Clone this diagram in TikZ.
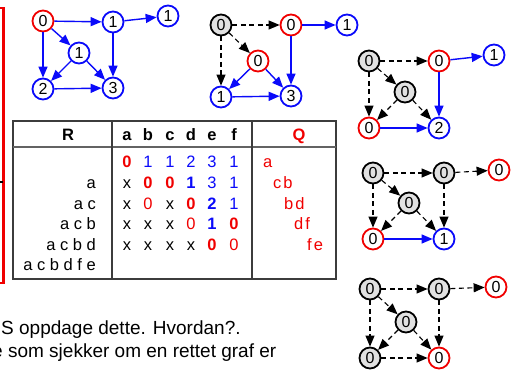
\documentclass[tikz,border=0pt]{standalone}
\usepackage{fontspec}
\setmainfont{Liberation Sans}
\usetikzlibrary{arrows.meta}
\definecolor{myred}{RGB}{240,0,0}
\definecolor{myblue}{RGB}{10,10,250}
\definecolor{mygray}{RGB}{225,225,225}
\definecolor{lineg}{RGB}{60,60,60}
\begin{document}
\begin{tikzpicture}[x=1pt,y=-1pt,
 gn/.style={circle,draw,line width=1.8pt,minimum size=21pt,inner sep=0pt,font=\fontsize{16}{16}\selectfont},
 rn/.style={gn,draw=myred,fill=white},
 bn/.style={gn,draw=myblue,fill=white},
 kn/.style={gn,draw=black,fill=mygray},
 be/.style={myblue,line width=1.4pt,-{Triangle[length=11pt,width=9pt]}},
 de/.style={black,line width=1.1pt,dash pattern=on 5pt off 3.5pt,-{Triangle[length=11pt,width=9pt]}},
 tt/.style={font=\fontsize{16.5}{16.5}\selectfont,inner sep=0pt,anchor=base},
 tb/.style={tt,font=\fontsize{16.5}{16.5}\selectfont\bfseries},
 rc/.style={tt,text=myred},
 rb/.style={tb,text=myred},
 bc/.style={tt,text=myblue},
 bb/.style={tb,text=myblue},
 rl/.style={tt,anchor=base east},
 ql/.style={tt,anchor=base west,text=myred},
 tline/.style={lineg,line width=1.2pt}
]
\useasboundingbox (0,0) rectangle (518,371);
% left red frame
\draw[myred,line width=2.2pt] (-10,8) rectangle (3.5,283);
\coordinate (tk1) at (0,182);
\coordinate (tk2) at (3,182);
\draw[black,line width=1pt] (tk1) -- (tk2);

% graph 1
\node[rn] (a0) at (43,21) {0};
\node[bn] (a1) at (113,22) {1};
\node[bn] (a2) at (168,16) {1};
\node[bn] (a3) at (79,53) {1};
\node[bn] (a4) at (43,89) {2};
\node[bn] (a5) at (113,88) {3};
\draw[be] (a0) -- (a1);
\draw[be] (a1) -- (a2);
\draw[be] (a0) -- (a3);
\draw[be] (a0) -- (a4);
\draw[be] (a3) -- (a4);
\draw[be] (a3) -- (a5);
\draw[be] (a1) -- (a5);
\draw[be] (a4) -- (a5);

% graph 2
\node[kn] (b0) at (221,25) {0};
\node[rn] (b1) at (291,25) {0};
\node[bn] (b2) at (347,25) {1};
\node[rn] (b3) at (258,61) {0};
\node[bn] (b4) at (221,97) {1};
\node[bn] (b5) at (291,96) {3};
\draw[de] (b0) -- (b1);
\draw[de] (b0) -- (b3);
\draw[de] (b0) -- (b4);
\draw[be] (b1) -- (b2);
\draw[be] (b1) -- (b5);
\draw[be] (b3) -- (b4);
\draw[be] (b3) -- (b5);
\draw[be] (b4) -- (b5);

% graph 3
\node[kn] (c0) at (369,61) {0};
\node[rn] (c1) at (439,61) {0};
\node[bn] (c2) at (494,55) {1};
\node[kn] (c3) at (405,92) {0};
\node[rn] (c4) at (369,128) {0};
\node[bn] (c5) at (439,128) {2};
\draw[de] (c0) -- (c1);
\draw[de] (c0) -- (c3);
\draw[de] (c0) -- (c4);
\draw[be] (c1) -- (c2);
\draw[be] (c1) -- (c5);
\draw[de] (c3) -- (c4);
\draw[de] (c3) -- (c5);
\draw[be] (c4) -- (c5);

% graph 4
\node[kn] (d0) at (373,173) {0};
\node[kn] (d1) at (444,173) {0};
\node[rn] (d2) at (499,170) {0};
\node[kn] (d3) at (409,203) {0};
\node[rn] (d4) at (373,239) {0};
\node[bn] (d5) at (444,239) {1};
\draw[de] (d0) -- (d1);
\draw[de] (d1) -- (d2);
\draw[de] (d0) -- (d3);
\draw[de] (d0) -- (d4);
\draw[de] (d1) -- (d5);
\draw[de] (d3) -- (d4);
\draw[de] (d3) -- (d5);
\draw[be] (d4) -- (d5);

% graph 5
\node[kn] (e0) at (370,289) {0};
\node[kn] (e1) at (439,289) {0};
\node[rn] (e2) at (496,287) {0};
\node[kn] (e3) at (406,322) {0};
\node[kn] (e4) at (370,358) {0};
\node[rn] (e5) at (439,358) {0};
\draw[de] (e0) -- (e1);
\draw[de] (e1) -- (e2);
\draw[de] (e0) -- (e3);
\draw[de] (e0) -- (e4);
\draw[de] (e1) -- (e5);
\draw[de] (e3) -- (e4);
\draw[de] (e3) -- (e5);
\draw[de] (e4) -- (e5);

% table
\draw[tline] (13,121) rectangle (336,279);
\draw[lineg!80,line width=1.6pt] (13,147) -- (336,147);
\draw[tline] (112,121) -- (112,279);
\draw[tline] (252,121) -- (252,279);

\node[tb] (hR) at (68,141) {R};
\node[tb] (ha) at (127,141) {a};
\node[tb] (hb) at (148,141) {b};
\node[tb] (hc) at (170,141) {c};
\node[tb] (hd) at (191,141) {d};
\node[tb] (he) at (212,141) {e};
\node[tb] (hf) at (234,141) {f};
\node[rb] (hQ) at (299,141) {Q};

% row 1
\node[rb] (r1a) at (127,167.8) {0};
\node[bc] (r1b) at (148,167.8) {1};
\node[bc] (r1c) at (170,167.8) {1};
\node[bc] (r1d) at (191,167.8) {2};
\node[bc] (r1e) at (212,167.8) {3};
\node[bc] (r1f) at (234,167.8) {1};
% row 2
\node[rl] (l2) at (96,188.6) {a};
\node[tt] (r2a) at (127,188.6) {x};
\node[rb] (r2b) at (148,188.6) {0};
\node[rb] (r2c) at (170,188.6) {0};
\node[bb] (r2d) at (191,188.6) {1};
\node[bc] (r2e) at (212,188.6) {3};
\node[bc] (r2f) at (234,188.6) {1};
% row 3
\node[rl] (l3) at (96,209) {a c};
\node[tt] (r3a) at (127,209) {x};
\node[rc] (r3b) at (148,209) {0};
\node[tt] (r3c) at (170,209) {x};
\node[rb] (r3d) at (191,209) {0};
\node[bb] (r3e) at (212,209) {2};
\node[bc] (r3f) at (234,209) {1};
% row 4
\node[rl] (l4) at (96,229.6) {a c b};
\node[tt] (r4a) at (127,229.6) {x};
\node[tt] (r4b) at (148,229.6) {x};
\node[tt] (r4c) at (170,229.6) {x};
\node[rc] (r4d) at (191,229.6) {0};
\node[bb] (r4e) at (212,229.6) {1};
\node[rb] (r4f) at (234,229.6) {0};
% row 5
\node[rl] (l5) at (96,250) {a c b d};
\node[tt] (r5a) at (127,250) {x};
\node[tt] (r5b) at (148,250) {x};
\node[tt] (r5c) at (170,250) {x};
\node[tt] (r5d) at (191,250) {x};
\node[rb] (r5e) at (212,250) {0};
\node[rc] (r5f) at (234,250) {0};
% row 6
\node[rl] (l6) at (96,270.6) {a c b d f e};

% Q column
\node[ql] (q1) at (263,167.8) {a};
\node[ql] (q2) at (273,188.6) {c\hspace{2pt}b};
\node[ql] (q3) at (284,209) {b\hspace{2pt}d};
\node[ql] (q4) at (294,229.6) {d\hspace{2pt}f};
\node[ql] (q5) at (307,250) {f\hspace{2pt}e};

% bottom text
\node[anchor=base west,inner sep=0pt,font=\fontsize{19}{19}\selectfont] (t1) at (1,334) {S oppdage dette. Hvordan?.};
\node[anchor=base east,inner sep=0pt,font=\fontsize{19}{19}\selectfont] (t2) at (276.5,357) {e som sjekker om en rettet graf er};
\end{tikzpicture}
\end{document}
